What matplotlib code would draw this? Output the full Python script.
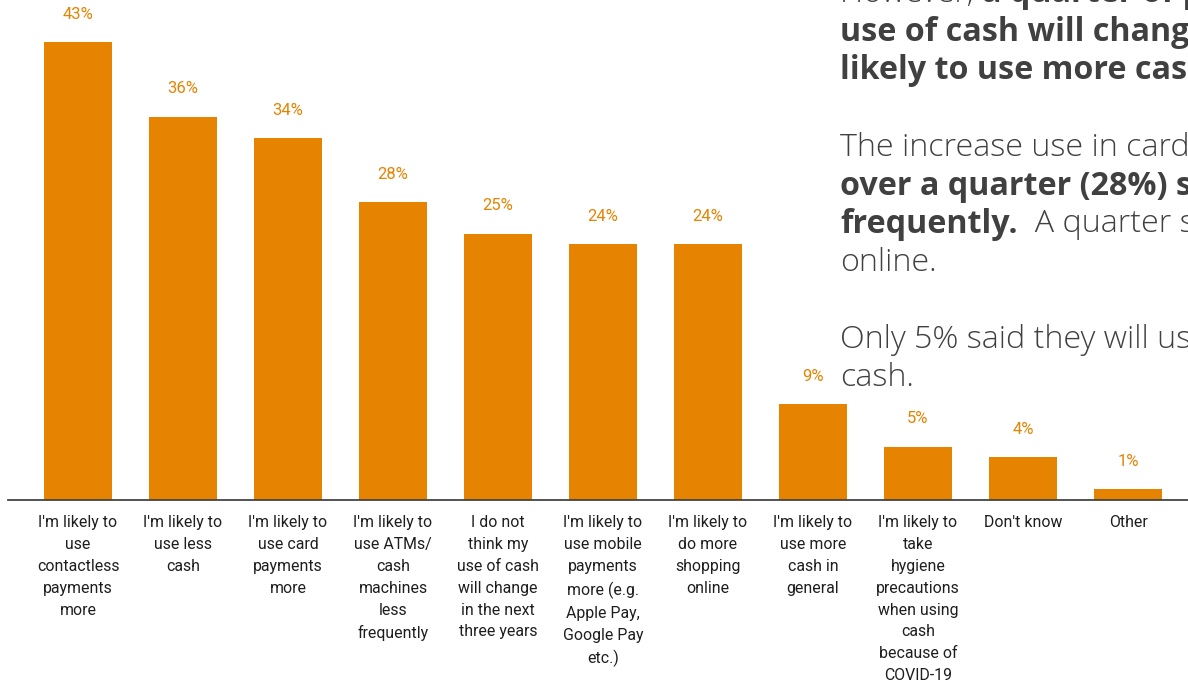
import matplotlib.pyplot as plt

# survey answers (share of respondents, %)
categories = [
    "I'm likely to\nuse\ncontactless\npayments\nmore",
    "I'm likely to\nuse less\ncash",
    "I'm likely to\nuse card\npayments\nmore",
    "I'm likely to\nuse ATMs/\ncash\nmachines\nless\nfrequently",
    "I do not\nthink my\nuse of cash\nwill change\nin the next\nthree years",
    "I'm likely to\nuse mobile\npayments\nmore (e.g.\nApple Pay,\nGoogle Pay\netc.)",
    "I'm likely to\ndo more\nshopping\nonline",
    "I'm likely to\nuse more\ncash in\ngeneral",
    "I'm likely to\ntake\nhygiene\nprecautions\nwhen using\ncash\nbecause of\nCOVID-19",
    "Don't know",
    "Other",
]
values = [43, 36, 34, 28, 25, 24, 24, 9, 5, 4, 1]

# slide text that sits on top of the chart (cut off at the right edge)
side_lines = [
    [("However, ", "normal"), ("a quarter of people do not think their", "bold")],
    [("use of cash will change", "bold")],
    [("likely to use more cash", "bold")],
    [],
    [("The increase use in card payments", "normal")],
    [("over a quarter (28%) said they will", "bold")],
    [("frequently.", "bold"), ("  A quarter said they will shop", "normal")],
    [("online.", "normal")],
    [],
    [("Only 5% said they will use more", "normal")],
    [("cash.", "normal")],
]

orange = '#E68300'

fig = plt.figure(figsize=(11.88, 6.85), dpi=100)
W, H = 1188, 685
base_px = 500
ax = fig.add_axes([8 / W, (H - base_px) / H, 1 - 8 / W, base_px / H])

x = list(range(len(values)))
ax.bar(x, values, width=0.64, color=orange, zorder=2)
ax.set_xlim(-0.667, 10.571)
ax.set_ylim(0, 500 / 10.65)

for xi, v in zip(x, values):
    ax.annotate(f"{v}%", (xi, v), xytext=(0, 20), textcoords='offset points',
                ha='center', va='center', color=orange, fontsize=12,
                family='Roboto')

ax.set_xticks(x)
ax.set_xticklabels(categories, family='Roboto', fontsize=11.4, color='#1e1e1e',
                   linespacing=1.57, va='top')
ax.tick_params(axis='x', length=0, pad=11)
ax.set_yticks([])
for s in ['top', 'right', 'left']:
    ax.spines[s].set_visible(False)
ax.spines['bottom'].set_color('#444444')
ax.spines['bottom'].set_linewidth(1.3)

# overlaid slide text
y0 = -6
step = 38.4
for i, parts in enumerate(side_lines):
    if not parts:
        continue
    yfig = (H - (y0 + i * step)) / H
    prev = None
    for txt, wt in parts:
        kw = dict(fontsize=23.2, color='#404040', family='Open Sans',
                  fontweight='bold' if wt == 'bold' else 'light', va='center')
        if prev is None:
            prev = fig.text(840 / W, yfig, txt, ha='left', **kw)
        else:
            prev = ax.annotate(txt, xy=(1, 0.5), xycoords=prev, ha='left',
                               annotation_clip=False, **kw)

fig.savefig('out.png', dpi=100)
